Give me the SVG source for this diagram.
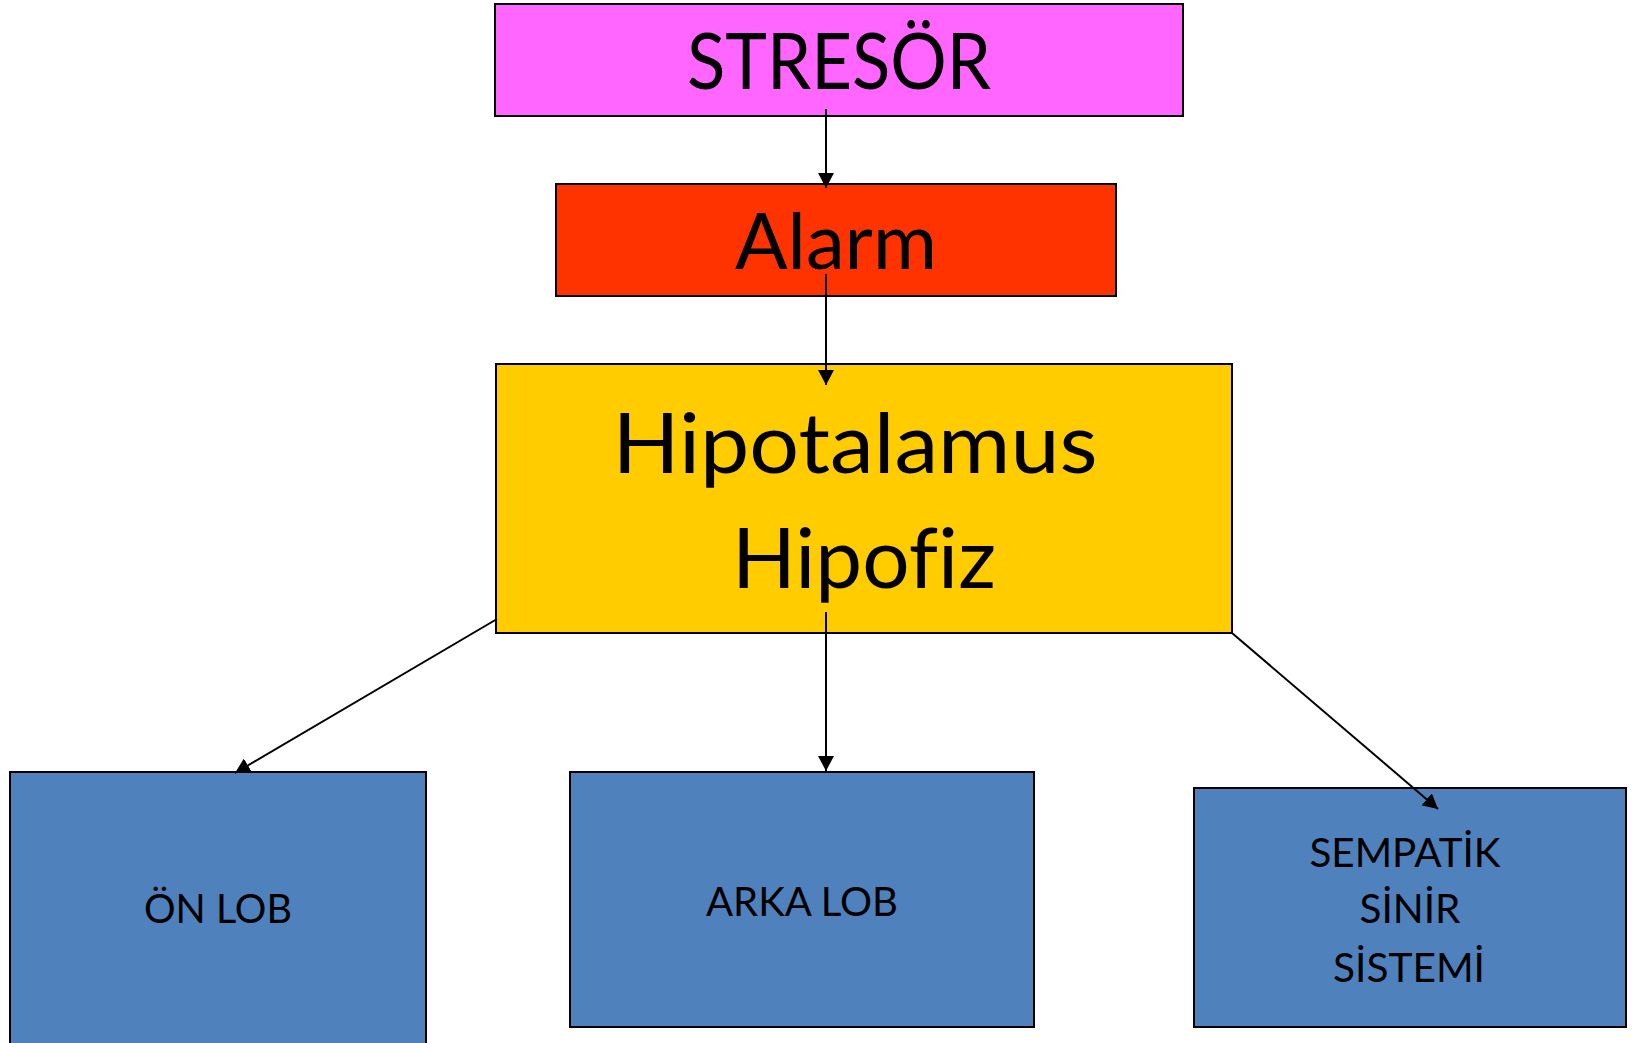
<svg xmlns="http://www.w3.org/2000/svg" width="1632" height="1043" viewBox="0 0 1632 1043">
<style>
.box{stroke:#000;stroke-width:2}
.t{font-family:Lato,"Open Sans","Liberation Sans",sans-serif;fill:#000;text-anchor:middle;font-variant-ligatures:none;font-feature-settings:"liga" 0,"clig" 0,"dlig" 0}
.big{font-size:78px}
.mid{font-size:84px}
.sm{font-size:40px}
.c{stroke:#000;stroke-width:2;fill:none;marker-end:url(#ah)}
</style>
<defs>
<marker id="ah" markerUnits="userSpaceOnUse" markerWidth="16" markerHeight="16" refX="15" refY="8" orient="auto" viewBox="0 0 16 16">
<path d="M0,0 L15,8 L0,16 z" fill="#000"/>
</marker>
</defs>
<rect width="1632" height="1043" fill="#fff"/>
<g id="node-stresor">
<rect class="box" x="495" y="4" width="688" height="112" fill="#FF66FF"/>
<text class="t big" x="839" y="89" textLength="304" lengthAdjust="spacingAndGlyphs">STRESÖR</text>
</g>
<g id="node-alarm">
<rect class="box" x="556" y="184" width="560" height="112" fill="#FF3300"/>
<text class="t big" x="836" y="269" textLength="202" lengthAdjust="spacingAndGlyphs">Alarm</text>
</g>
<g id="node-hipotalamus">
<rect class="box" x="496" y="364" width="736" height="269" fill="#FFCC00"/>
<text class="t mid" x="855" y="473" textLength="485" lengthAdjust="spacingAndGlyphs">Hipotalamus</text>
<text class="t mid" x="864" y="588" textLength="264" lengthAdjust="spacingAndGlyphs">Hipofiz</text>
</g>
<g id="node-on-lob">
<rect class="box" x="10" y="772" width="416" height="290" fill="#4F81BD"/>
<text class="t sm" x="218" y="923" textLength="148" lengthAdjust="spacingAndGlyphs">ÖN LOB</text>
</g>
<g id="node-arka-lob">
<rect class="box" x="570" y="772" width="464" height="255" fill="#4F81BD"/>
<text class="t sm" x="802" y="916" textLength="192" lengthAdjust="spacingAndGlyphs">ARKA LOB</text>
</g>
<g id="node-sempatik">
<rect class="box" x="1194" y="788" width="432" height="239" fill="#4F81BD"/>
<text class="t sm" x="1405" y="867" textLength="191" lengthAdjust="spacingAndGlyphs">SEMPATİK</text>
<text class="t sm" x="1410" y="923" textLength="101" lengthAdjust="spacingAndGlyphs">SİNİR</text>
<text class="t sm" x="1409" y="982" textLength="152" lengthAdjust="spacingAndGlyphs">SİSTEMİ</text>
</g>
<g id="connectors">
<line class="c" x1="826" y1="109" x2="826" y2="188"/>
<line class="c" x1="826" y1="274" x2="826" y2="385"/>
<line class="c" x1="826" y1="612" x2="826" y2="771"/>
<line class="c" x1="497" y1="619" x2="235" y2="773"/>
<line class="c" x1="1232" y1="633" x2="1438" y2="809"/>
</g>
</svg>
